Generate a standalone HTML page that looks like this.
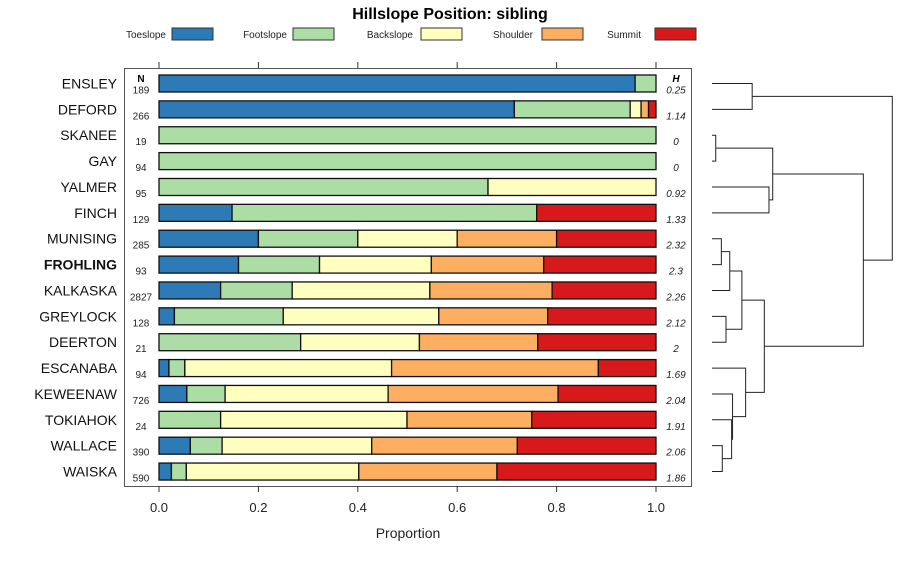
<!DOCTYPE html>
<html><head><meta charset="utf-8"><style>
body{margin:0;background:#fff;}
svg text{font-family:"Liberation Sans",sans-serif;}
</style></head><body>
<svg id="chart" width="900" height="560" xmlns="http://www.w3.org/2000/svg"></svg>
<script>
const categories=["ENSLEY","DEFORD","SKANEE","GAY","YALMER","FINCH","MUNISING","FROHLING","KALKASKA","GREYLOCK","DEERTON","ESCANABA","KEWEENAW","TOKIAHOK","WALLACE","WAISKA"];
const nValues=["189","266","19","94","95","129","285","93","2827","128","21","94","726","24","390","590"];
const hValues=["0.25","1.14","0","0","0.92","1.33","2.32","2.3","2.26","2.12","2","1.69","2.04","1.91","2.06","1.86"];
const seriesNames=["Toeslope","Footslope","Backslope","Shoulder","Summit"];
const seriesColors=["#2c7bb6","#abdda4","#ffffbf","#fdae61","#d7191c"];
const toeslope=[0.958,0.715,0,0,0,0.147,0.2,0.160,0.124,0.031,0,0.020,0.056,0,0.063,0.025];
const footslope=[0.042,0.233,1,1,0.662,0.613,0.2,0.163,0.144,0.219,0.285,0.032,0.077,0.124,0.064,0.030];
const backslope=[0,0.022,0,0,0.338,0,0.2,0.225,0.277,0.313,0.239,0.416,0.328,0.375,0.301,0.347];
const shoulder=[0,0.015,0,0,0,0,0.2,0.226,0.246,0.219,0.238,0.416,0.342,0.251,0.293,0.278];
const summit=[0,0.015,0,0,0,0.240,0.2,0.226,0.209,0.218,0.238,0.116,0.197,0.250,0.279,0.320];
const xTicks=[0,0.2,0.4,0.6,0.8,1.0];
const xTickLabels=["0.0","0.2","0.4","0.6","0.8","1.0"];
// dendrogram merges: [childA, childB, height]; leaves are row indices, clusters "c#"
const merges=[
 [0,1,0.43],[2,3,0.04],[4,5,0.61],["c1","c2",0.65],
 [6,7,0.10],["c4",8,0.19],[9,10,0.15],["c5","c6",0.32],
 [14,15,0.11],[13,"c8",0.21],[12,"c9",0.22],[11,"c10",0.36],
 ["c7","c11",0.56],["c3","c12",1.62],["c0","c13",1.93]
];
const svg=document.getElementById('chart');
const NS="http://www.w3.org/2000/svg";
function mk(tag,attrs,parent){const e=document.createElementNS(NS,tag);for(const k in attrs)e.setAttribute(k,attrs[k]);(parent||svg).appendChild(e);return e;}
const X0=159,X1=656;
const xs=v=>X0+v*(X1-X0);
const ys=i=>83.5+i*25.87;
const BH=17;
// title
let t=mk('text',{x:450,y:19,'text-anchor':'middle','font-size':16,'font-weight':'bold'});t.textContent="Hillslope Position: sibling";


// legend
const legX=[[166,172],[287,293],[413,421],[533,542],[641,655]];
seriesNames.forEach((n,i)=>{
 const g=mk('g',{});
 
 
 const tx=mk('text',{x:legX[i][0],y:38,'text-anchor':'end','font-size':10,fill:'#222'},g);tx.textContent=n;
 mk('rect',{x:legX[i][1],y:28,width:41,height:12,fill:seriesColors[i],stroke:'#333','stroke-width':1},g);
});
// frame
const fr=mk('rect',{x:124.5,y:68.5,width:567,height:418,fill:'none',stroke:'#555','stroke-width':1});


// ticks
xTicks.forEach((v,i)=>{
 mk('line',{x1:xs(v),x2:xs(v),y1:62,y2:68,stroke:'#333'});
 mk('line',{x1:xs(v),x2:xs(v),y1:486,y2:492,stroke:'#333'});
 const l=mk('text',{x:xs(v),y:512,'text-anchor':'middle','font-size':13,fill:'#222'});l.textContent=xTickLabels[i];
 
 
});
const xt=mk('text',{x:408,y:538,'text-anchor':'middle','font-size':14,fill:'#222'});xt.textContent="Proportion";


let nh=mk('text',{x:141,y:82,'text-anchor':'middle','font-size':10,'font-weight':'bold'});nh.textContent="N";


let hh=mk('text',{x:676,y:82,'text-anchor':'middle','font-size':10,'font-weight':'bold','font-style':'italic'});hh.textContent="H";


const series=[toeslope,footslope,backslope,shoulder,summit];
categories.forEach((c,i)=>{
 const y=ys(i);
 const lb=mk('text',{x:117,y:y+5,'text-anchor':'end','font-size':14,fill:'#111','font-weight':c==="FROHLING"?'bold':'normal'});lb.textContent=c;
 
 
 const nt=mk('text',{x:141,y:y+10,'text-anchor':'middle','font-size':10,fill:'#222'});nt.textContent=nValues[i];
 
 
 const ht=mk('text',{x:676,y:y+10,'text-anchor':'middle','font-size':10,'font-style':'italic',fill:'#222'});ht.textContent=hValues[i];
 
 
 let cum=0;
 series.forEach((s,k)=>{
  const v=s[i];if(v<=0)return;
  const r=mk('rect',{x:xs(cum),y:y-BH/2,width:xs(cum+v)-xs(cum),height:BH,fill:seriesColors[k],stroke:'#111','stroke-width':1.3});
  
  
  cum+=v;
 });
});
// dendrogram
const DX0=712,DSC=(892.3-712)/1.93;
const dx=h=>DX0+h*DSC;
const nodes=[];
function pos(ref){if(typeof ref==="number")return {x:DX0,y:ys(ref)};return nodes[+ref.slice(1)];}
merges.forEach(m=>{
 const a=pos(m[0]),b=pos(m[1]),hx=dx(m[2]);
 const p=mk('path',{d:`M${a.x},${a.y}H${hx}V${b.y}H${b.x}`,fill:'none',stroke:'#222','stroke-width':1});
 
 
 nodes.push({x:hx,y:(a.y+b.y)/2});
});
</script>
</body></html>
